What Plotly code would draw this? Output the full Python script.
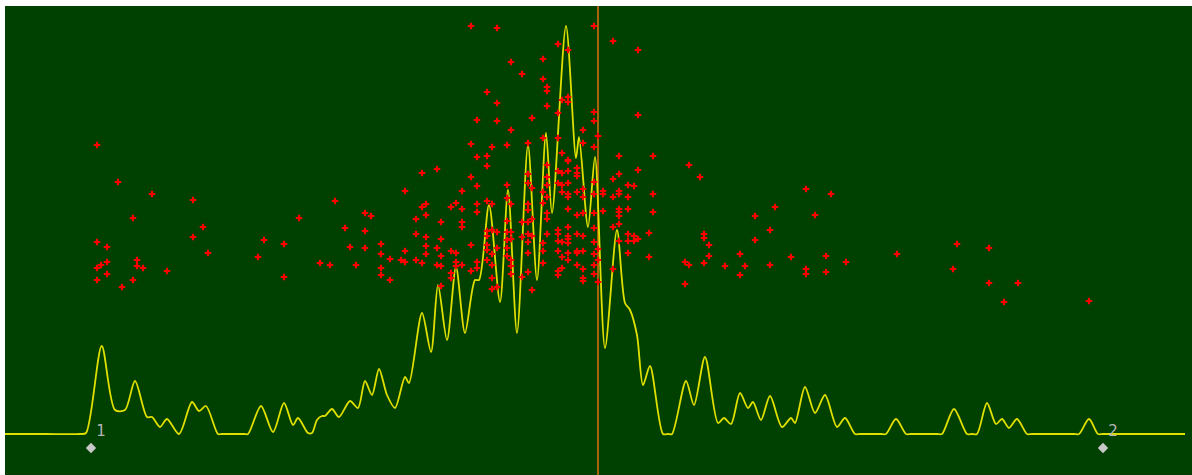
import plotly.graph_objects as go

# Spectrum line (x position, vertical position; y axis runs top-down)
line_x = [5, 45, 80, 86, 101.7, 115, 125, 135, 147, 152, 160, 167, 179, 192, 199, 206, 218, 222, 244, 248,
          261, 273, 284, 293,
          298, 308, 312, 317, 322, 325, 332, 339, 350, 358, 365, 372, 379, 387, 395, 405, 409, 422, 431, 438,
          447, 456, 465, 475, 479, 489, 500, 508, 517, 528, 537, 546, 552, 566, 576, 579, 588, 595, 605, 617,
          625, 630, 637, 643, 650, 663, 668, 672, 686, 694, 705, 718, 724, 731, 740, 748, 753, 761, 770, 782, 791,
          795, 805, 815, 825, 837, 845, 855, 860, 881, 886, 896, 906, 911, 937, 942, 954, 967, 972, 977, 987, 996,
          1002, 1009, 1017, 1027, 1032, 1074, 1079, 1089, 1098, 1103, 1140, 1185]
line_y = [434, 434, 434, 433, 346, 410, 410, 381, 417, 417, 427, 419, 434, 402, 411, 406, 434, 434, 434, 434,
          406, 432, 403, 425,
          418, 433, 433, 420, 416, 416, 409, 417, 401, 408, 381, 395, 369, 395, 408, 377, 383, 313, 352, 285,
          340, 267, 333, 280, 280, 205, 302, 190, 333, 145, 280, 133, 213, 26, 158, 137, 227, 157, 348, 230,
          303, 310, 335, 385, 366, 434, 434, 434, 381, 405, 357, 423, 418, 424, 393, 408, 402, 420, 396, 427, 418,
          423, 387, 413, 395, 427, 418, 434, 434, 434, 434, 419, 434, 434, 434, 434, 409, 434, 434, 434, 403, 424,
          419, 428, 419, 434, 434, 434, 434, 419, 434, 434, 434, 434]

# Red scatter points
pts_x = [97, 118, 152, 193, 133, 203, 193, 97, 107, 208, 107, 101, 97, 137, 137, 143, 167, 107, 97, 133, 122,
         258, 264, 284, 284, 299, 335, 345, 350, 356, 320, 330, 365, 371, 365, 365, 381, 381, 381, 381, 390, 390,
         401, 405, 405, 416, 405, 416, 416,
         422, 422, 426, 426, 426, 426, 426, 422, 437, 437, 437, 441, 441, 441, 441, 441, 451, 451, 456, 456, 456,
         456, 451, 451, 462, 462, 462, 462, 462, 471, 471, 471, 477, 477, 477, 477, 477, 487, 487, 487, 487, 487,
         487, 487,
         471, 477, 471, 477,
         497, 511, 522, 543, 543, 547, 547, 547, 558, 568, 562, 568, 568, 487, 497, 497, 511, 532, 558, 492, 507,
         487, 528, 543, 558, 594, 594, 594, 583, 598, 583, 594, 613, 638, 638, 619, 653, 638, 613, 619, 628, 634,
         653, 653, 649, 649, 628, 628, 619, 619, 619, 619, 619, 619, 613, 613, 603, 603, 603, 628, 628, 634, 634,
         638, 628, 619, 613,
         492, 507, 507, 511, 528, 528, 532, 547, 547, 547, 547, 558, 558, 562, 562, 562, 568, 568, 568, 568, 568,
         568, 577, 577, 577, 577, 577, 583, 583, 583, 594, 594, 594, 594, 543, 543, 528, 528, 522, 528, 532, 497,
         492, 497, 507, 507, 507, 511, 511, 511, 511, 511, 522, 522, 528, 528, 528, 528, 532, 543, 543, 543, 547,
         547, 547, 558, 558, 558, 558, 558, 558, 562, 562, 562, 568, 568, 568, 568, 568, 568, 577, 577, 577, 577,
         583, 583, 583, 583, 583, 594, 594, 594, 594, 598, 598, 598, 492, 492, 492, 492, 497, 532, 507, 507, 562,
         568,
         689, 700, 704, 704, 709, 709, 685, 689, 704, 685, 725, 740, 745, 740, 755, 755, 770, 775, 770, 791, 806,
         815, 806, 806, 826, 826, 831, 846, 897, 957, 989, 953, 989, 1018, 1004, 1089]
pts_y = [145, 182, 194, 200, 218, 227, 237, 242, 247, 253, 262, 265, 268, 260, 266, 268, 271, 274, 280, 280, 287,
         257, 240, 244, 277, 218, 201, 228, 247, 265, 263, 265, 213, 216, 231, 248, 244, 254, 268, 275, 259, 280,
         260, 262, 251, 260, 191, 219, 234,
         173, 207, 204, 215, 237, 246, 254, 263, 169, 248, 265, 222, 239, 256, 266, 286, 207, 251, 203, 253, 262,
         266, 273, 278, 191, 209, 222, 227, 265, 177, 245, 271, 186, 204, 212, 262, 268, 166, 201, 231, 236, 245,
         250, 260,
         26, 120, 144, 157,
         28, 62, 74, 59, 79, 87, 91, 106, 44, 50, 100, 97, 102, 92, 103, 121, 130, 118, 113, 147, 145,
         156, 143, 138, 138, 26, 112, 121, 130, 136, 143, 147, 41, 50, 115, 156, 156, 170, 179, 174, 185, 186,
         194, 212, 233, 257, 197, 209, 191, 194, 209, 212, 216, 224, 197, 227, 191, 194, 211, 234, 241, 236, 241,
         239, 253, 241, 269,
         204, 185, 198, 204, 174, 183, 188, 165, 177, 185, 197, 171, 183, 173, 185, 192, 161, 171, 183, 194, 197,
         209, 168, 173, 176, 192, 215, 189, 197, 213, 182, 194, 213, 228, 192, 203, 204, 210, 222, 222, 219, 232,
         230, 248, 221, 248, 256, 232, 239, 260, 266, 274, 237, 277, 234, 242, 253, 272, 236, 243, 251, 263, 213,
         219, 234, 230, 234, 241, 251, 271, 275, 242, 257, 268, 227, 236, 239, 243, 253, 260, 234, 251, 253, 265,
         236, 251, 269, 278, 281, 242, 254, 265, 274, 249, 260, 282, 254, 265, 278, 289, 287, 290, 240, 232, 153,
         160,
         165, 177, 234, 238, 245, 256, 262, 265, 263, 284, 266, 254, 266, 275, 216, 240, 230, 207, 265, 257, 189,
         215, 269, 274, 256, 272, 194, 262, 254, 244, 248, 269, 283, 283, 302, 301]

# Numbered markers
mark_x = [91, 1103]
mark_y = [448, 448]
mark_labels = ["1", "2"]
label_x = [101, 1113]
label_y = [432, 432]

cursor_x = 598

fig = go.Figure()
fig.add_trace(go.Scatter(x=line_x, y=line_y, mode="lines",
                         line=dict(color="#e0e000", width=1.8, shape="spline", smoothing=0.8),
                         hoverinfo="skip"))
fig.add_trace(go.Scatter(x=pts_x, y=pts_y, mode="markers",
                         marker=dict(symbol="cross", size=5.5, color="#ff0000", line=dict(width=0))))
fig.add_trace(go.Scatter(x=mark_x, y=mark_y, mode="markers",
                         marker=dict(symbol="diamond", size=8, color="#c8c8c8", line=dict(width=0))))
fig.add_trace(go.Scatter(x=label_x, y=label_y, mode="text", text=mark_labels,
                         textfont=dict(family="DejaVu Sans", size=15, color="#b4b4b4"),
                         textposition="middle center"))

fig.add_shape(type="line", x0=cursor_x, x1=cursor_x, y0=0, y1=1, yref="paper",
              line=dict(color="#e07010", width=1.5), layer="below")

fig.update_layout(
    width=1192, height=475,
    margin=dict(l=5, r=0, t=6, b=0),
    paper_bgcolor="white", plot_bgcolor="#004000",
    showlegend=False,
    xaxis=dict(range=[5, 1192], visible=False, showgrid=False, zeroline=False, fixedrange=True),
    yaxis=dict(range=[475, 6], visible=False, showgrid=False, zeroline=False, fixedrange=True),
)

fig.write_html("out.html")
